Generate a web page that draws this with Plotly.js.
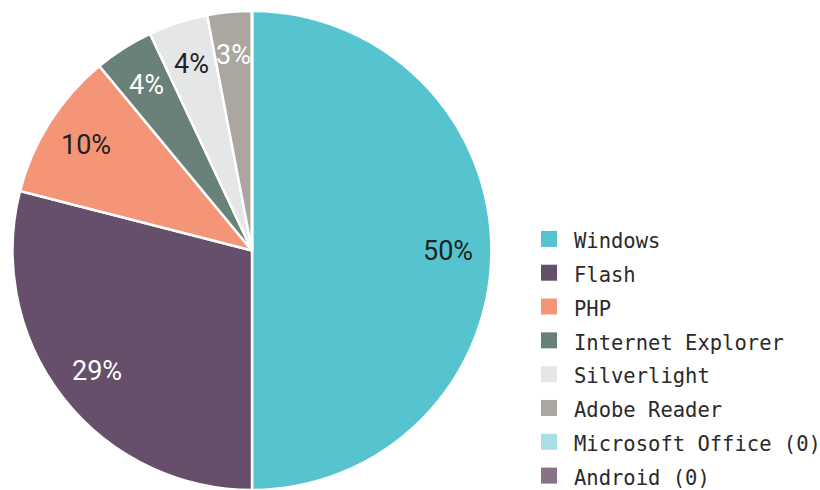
<!DOCTYPE html>
<html>
<head>
<meta charset="utf-8">
<script src="https://cdn.plot.ly/plotly-3.0.1.min.js"></script>
<style>html,body{margin:0;padding:0;background:#fff;}#chart{width:820px;height:490px;}</style>
</head>
<body>
<div id="chart"></div>
<script>
const labels = ["Windows", "Flash", "PHP", "Internet Explorer", "Silverlight", "Adobe Reader", "Microsoft Office (0)", "Android (0)"];
const values = [50, 29, 10, 4, 4, 3, 0, 0];
const colors = ["#56C4CF", "#654F6A", "#F59578", "#6A817A", "#E5E6E8", "#ABA7A0", "#A9DEE3", "#88728A"];
const textColors = ["#222222", "#ffffff", "#222222", "#ffffff", "#222222", "#ffffff", "#222222", "#ffffff"];

const W = 820, H = 490;
const CX = 252, CY = 250.5, R = 239.5;   // pie geometry (pixels)
const LABEL_R = 0.82;                   // label radius as fraction of R

const trace = {
  type: 'pie',
  labels: labels,
  values: values,
  sort: false,
  direction: 'clockwise',
  rotation: 0,
  marker: {colors: colors, line: {color: '#ffffff', width: 2.5}},
  textinfo: 'none',
  hoverinfo: 'skip',
  domain: {x: [(CX - R) / W, (CX + R) / W], y: [(H - CY - R) / H, (H - CY + R) / H]}
};

// percent labels placed at each slice's mid-angle, computed from the values
const total = values.reduce((a, b) => a + b, 0);
const annotations = [];
let cum = 0;
values.forEach((v, i) => {
  if (v > 0) {
    const mid = (cum + v / 2) / total * 2 * Math.PI;
    const px = CX + LABEL_R * R * Math.sin(mid);
    const py = CY - LABEL_R * R * Math.cos(mid);
    annotations.push({
      xref: 'paper', yref: 'paper', x: px / W, y: 1 - py / H,
      xanchor: 'center', yanchor: 'middle', showarrow: false,
      text: Math.round(v / total * 100) + '%',
      font: {family: 'Roboto, sans-serif', size: 27, color: textColors[i]}
    });
  }
  cum += v;
});

const layout = {
  width: W, height: H,
  margin: {l: 0, r: 0, t: 0, b: 0, autoexpand: false},
  paper_bgcolor: '#ffffff',
  showlegend: true,
  legend: {
    x: 524 / W, xanchor: 'left', y: 1 - 217 / H, yanchor: 'top',
    font: {family: '"DejaVu Sans Mono", monospace', size: 23.7, color: '#2a2a2a'},
    itemwidth: 40,
    traceorder: 'normal'
  },
  annotations: annotations
};

Plotly.newPlot('chart', [trace], layout, {displayModeBar: false, staticPlot: true}).then(gd => {
  gd.querySelectorAll('.legendpoints path').forEach(p => {
    p.setAttribute('d', 'M8,8H-8V-8H8Z');
    p.style.strokeWidth = '0';
  });
  gd.querySelectorAll('.legendtext').forEach(t => { t.style.fontSize = '20.5px'; });
});
</script>
</body>
</html>
